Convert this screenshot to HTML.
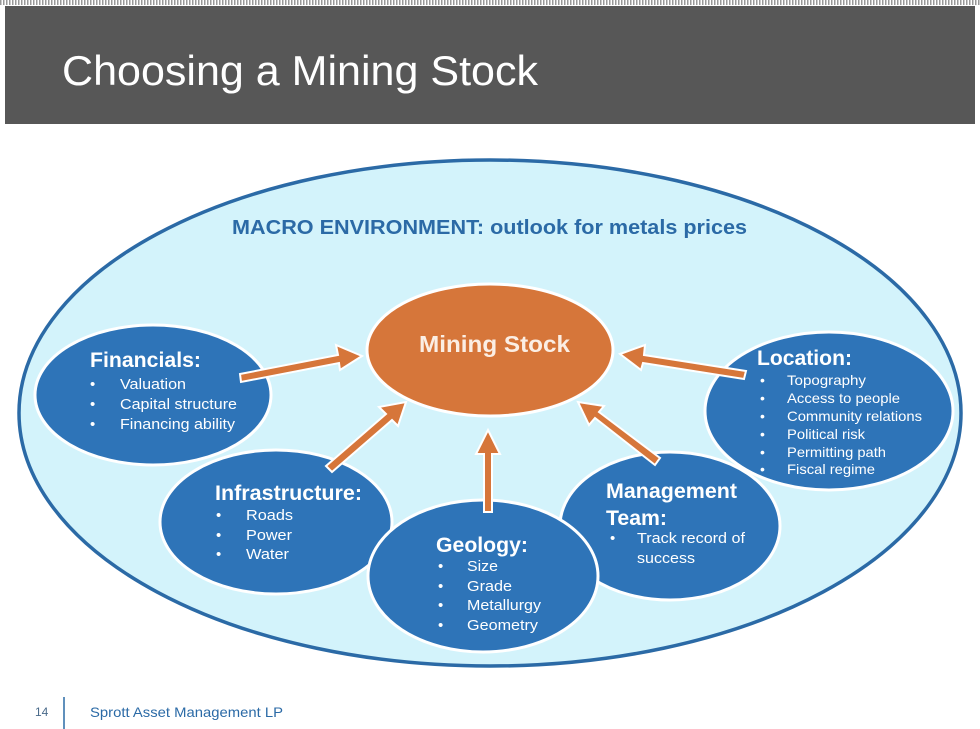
<!DOCTYPE html>
<html><head><meta charset="utf-8"><style>
html,body{margin:0;padding:0;background:#fff;}
svg{display:block;font-family:"Liberation Sans",Arial,sans-serif;}
</style></head><body>
<svg width="980" height="729" viewBox="0 0 980 729" xmlns="http://www.w3.org/2000/svg">
<defs>
<pattern id="dots" width="3" height="5" patternUnits="userSpaceOnUse"><rect width="3" height="5" fill="#fff"/><rect width="1.5" height="5" fill="#999"/></pattern>
</defs>
<rect x="0" y="0" width="980" height="5" fill="url(#dots)"/>
<rect x="5" y="6" width="970" height="118" fill="#575757"/>
<text x="62" y="85" font-size="42" fill="#fff" textLength="476" lengthAdjust="spacingAndGlyphs">Choosing a Mining Stock</text>

<ellipse cx="490" cy="413" rx="474" ry="256" fill="#fff"/>
<ellipse cx="490" cy="413" rx="471" ry="253" fill="#d3f3fb" stroke="#2b6aa6" stroke-width="3.5"/>
<text x="232" y="234" font-size="20" font-weight="bold" fill="#2b6aa6" textLength="515" lengthAdjust="spacingAndGlyphs">MACRO ENVIRONMENT: outlook for metals prices</text>

<g stroke="#fff" stroke-width="3" fill="#2e74b8">
<ellipse cx="153" cy="395" rx="118" ry="70"/>
<ellipse cx="829" cy="411" rx="124" ry="79"/>
<ellipse cx="276" cy="522" rx="116" ry="72"/>
<ellipse cx="670" cy="526" rx="110" ry="74"/>
<ellipse cx="483" cy="576" rx="115" ry="76"/>
<ellipse cx="490" cy="350" rx="123" ry="66" fill="#d6763a"/>
</g>

<g stroke="#fff" stroke-width="2" fill="#d6763a" stroke-linejoin="miter">
<polygon points="240,374 338,355 336,345 362,356 340,370 339,363 241,382"/>
<polygon points="746,371 644,355 645,345 620,354 641,370 643,363 744,379"/>
<polygon points="326,466 386,414 379,407 406,402 398,426 392,420 332,472"/>
<polygon points="484,512 484,454 476,454 488,430 500,454 492,454 492,512"/>
<polygon points="655,465 595,418 589,425 578,402 604,406 599,412 660,458"/>
</g>

<text x="419" y="352" font-size="23" font-weight="bold" fill="#fbeee4" textLength="151" lengthAdjust="spacingAndGlyphs">Mining Stock</text>

<g fill="#fff">
<text x="90" y="367" font-size="21" font-weight="bold" textLength="111" lengthAdjust="spacingAndGlyphs">Financials:</text>
<g font-size="15"><text x="90" y="389">•</text><text x="120" y="389" textLength="66" lengthAdjust="spacingAndGlyphs">Valuation</text>
<text x="90" y="409">•</text><text x="120" y="409" textLength="117" lengthAdjust="spacingAndGlyphs">Capital structure</text>
<text x="90" y="429">•</text><text x="120" y="429" textLength="115" lengthAdjust="spacingAndGlyphs">Financing ability</text></g>

<text x="757" y="365" font-size="21" font-weight="bold" textLength="95" lengthAdjust="spacingAndGlyphs">Location:</text>
<g font-size="14"><text x="760" y="385">•</text><text x="787" y="385" textLength="79" lengthAdjust="spacingAndGlyphs">Topography</text>
<text x="760" y="403">•</text><text x="787" y="403" textLength="113" lengthAdjust="spacingAndGlyphs">Access to people</text>
<text x="760" y="421">•</text><text x="787" y="421" textLength="135" lengthAdjust="spacingAndGlyphs">Community relations</text>
<text x="760" y="439">•</text><text x="787" y="439" textLength="78" lengthAdjust="spacingAndGlyphs">Political risk</text>
<text x="760" y="457">•</text><text x="787" y="457" textLength="99" lengthAdjust="spacingAndGlyphs">Permitting path</text>
<text x="760" y="474">•</text><text x="787" y="474" textLength="88" lengthAdjust="spacingAndGlyphs">Fiscal regime</text></g>

<text x="215" y="500" font-size="21" font-weight="bold" textLength="147" lengthAdjust="spacingAndGlyphs">Infrastructure:</text>
<g font-size="15"><text x="216" y="520">•</text><text x="246" y="520" textLength="47" lengthAdjust="spacingAndGlyphs">Roads</text>
<text x="216" y="540">•</text><text x="246" y="540" textLength="46" lengthAdjust="spacingAndGlyphs">Power</text>
<text x="216" y="559">•</text><text x="246" y="559" textLength="43" lengthAdjust="spacingAndGlyphs">Water</text></g>

<text x="606" y="498" font-size="21" font-weight="bold" textLength="131" lengthAdjust="spacingAndGlyphs">Management</text>
<text x="606" y="525" font-size="21" font-weight="bold" textLength="61" lengthAdjust="spacingAndGlyphs">Team:</text>
<g font-size="15"><text x="610" y="543">•</text><text x="637" y="543" textLength="108" lengthAdjust="spacingAndGlyphs">Track record of</text>
<text x="637" y="563" textLength="58" lengthAdjust="spacingAndGlyphs">success</text></g>

<text x="436" y="552" font-size="21" font-weight="bold" textLength="92" lengthAdjust="spacingAndGlyphs">Geology:</text>
<g font-size="15"><text x="438" y="571">•</text><text x="467" y="571" textLength="31" lengthAdjust="spacingAndGlyphs">Size</text>
<text x="438" y="591">•</text><text x="467" y="591" textLength="45" lengthAdjust="spacingAndGlyphs">Grade</text>
<text x="438" y="610">•</text><text x="467" y="610" textLength="74" lengthAdjust="spacingAndGlyphs">Metallurgy</text>
<text x="438" y="630">•</text><text x="467" y="630" textLength="71" lengthAdjust="spacingAndGlyphs">Geometry</text></g>
</g>

<text x="35" y="716" font-size="12" fill="#4a6a8a">14</text>
<line x1="64" y1="697" x2="64" y2="729" stroke="#2b6aa6" stroke-width="1.5"/>
<text x="90" y="717" font-size="14" fill="#2b6aa6" textLength="193" lengthAdjust="spacingAndGlyphs">Sprott Asset Management LP</text>
</svg>
</body></html>
